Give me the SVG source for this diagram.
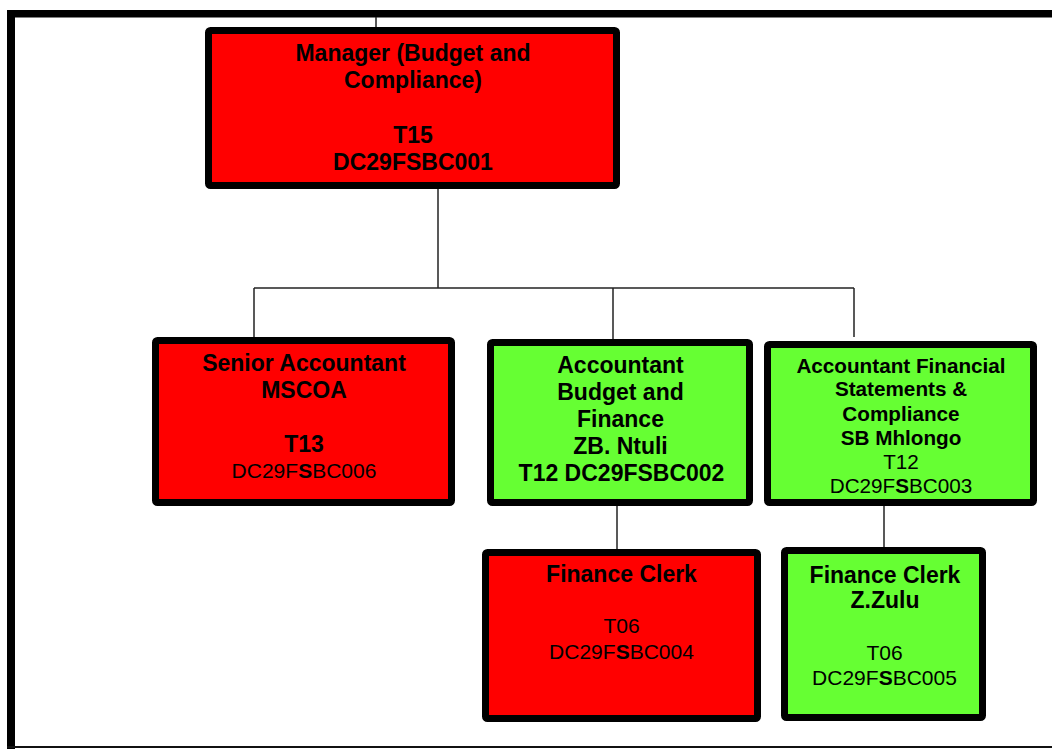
<svg xmlns="http://www.w3.org/2000/svg" width="1052" height="749" viewBox="0 0 1052 749">
<style>
.box{stroke:#000;stroke-width:7;}
.red{fill:#ff0000;}
.grn{fill:#66ff33;}
.t{font-family:"Liberation Sans",Arial,sans-serif;font-weight:bold;text-anchor:middle;fill:#000;}
.r{font-weight:normal;}
.b{font-weight:bold;}
.c{stroke:#222;stroke-width:1.5;fill:none;}
</style>
<rect width="1052" height="749" fill="#fff"/>
<g id="frame">
<rect x="7" y="10" width="1045" height="7.5" fill="#000"/>
<rect x="7" y="10" width="8" height="739" fill="#000"/>
<rect x="7" y="746" width="1045" height="2" fill="#111"/>
</g>
<g id="connectors">
<path class="c" d="M376,17V27"/>
<path class="c" d="M438,189V288"/>
<path class="c" d="M254,288H854"/>
<path class="c" d="M254,288V337"/>
<path class="c" d="M613,288V339"/>
<path class="c" d="M854,288V337"/>
<path class="c" d="M617,506V549"/>
<path class="c" d="M884,506V547"/>
</g>
<g id="manager">
<rect class="box red" x="208.5" y="30.5" width="408" height="155" rx="2"/>
<text class="t" font-size="23" x="413" y="61">Manager (Budget and</text>
<text class="t" font-size="23" x="413" y="88">Compliance)</text>
<text class="t" font-size="23" x="413" y="143">T15</text>
<text class="t" font-size="23" x="413" y="170">DC29FSBC001</text>
</g>
<g id="senior-accountant">
<rect class="box red" x="155.5" y="340.5" width="296" height="162" rx="2"/>
<text class="t" font-size="23" x="304" y="371">Senior Accountant</text>
<text class="t" font-size="23" x="304" y="398">MSCOA</text>
<text class="t" font-size="23" x="304" y="452">T13</text>
<text class="t r" font-size="21" x="304" y="478">DC29F<tspan class="b">S</tspan>BC006</text>
</g>
<g id="accountant-budget">
<rect class="box grn" x="490.5" y="342.5" width="259" height="160" rx="2"/>
<text class="t" font-size="23" x="620.5" y="373">Accountant</text>
<text class="t" font-size="23" x="620.5" y="400">Budget and</text>
<text class="t" font-size="23" x="620.5" y="427">Finance</text>
<text class="t" font-size="23" x="620.5" y="454">ZB. Ntuli</text>
<text class="t" font-size="23" x="621.5" y="481">T12 DC29FSBC002</text>
</g>
<g id="accountant-statements">
<rect class="box grn" x="767.5" y="344.5" width="266" height="158" rx="2"/>
<text class="t" font-size="20.7" x="901" y="373">Accountant Financial</text>
<text class="t" font-size="20.7" x="901" y="396">Statements &amp;</text>
<text class="t" font-size="20.7" x="901" y="420.5">Compliance</text>
<text class="t" font-size="20.7" x="901" y="444.5">SB Mhlongo</text>
<text class="t r" font-size="20.7" x="901" y="469">T12</text>
<text class="t r" font-size="20.7" x="901" y="492.5">DC29F<tspan class="b">S</tspan>BC003</text>
</g>
<g id="finance-clerk-1">
<rect class="box red" x="485.5" y="552.5" width="272" height="166" rx="2"/>
<text class="t" font-size="23" x="621.5" y="582">Finance Clerk</text>
<text class="t r" font-size="21" x="621.5" y="633">T06</text>
<text class="t r" font-size="21" x="621.5" y="659">DC29F<tspan class="b">S</tspan>BC004</text>
</g>
<g id="finance-clerk-2">
<rect class="box grn" x="784.5" y="550.5" width="198" height="167" rx="2"/>
<text class="t" font-size="23" x="885" y="582.5">Finance Clerk</text>
<text class="t" font-size="23" x="885" y="608">Z.Zulu</text>
<text class="t r" font-size="21" x="884.5" y="660">T06</text>
<text class="t r" font-size="21" x="884.5" y="685">DC29F<tspan class="b">S</tspan>BC005</text>
</g>
</svg>
